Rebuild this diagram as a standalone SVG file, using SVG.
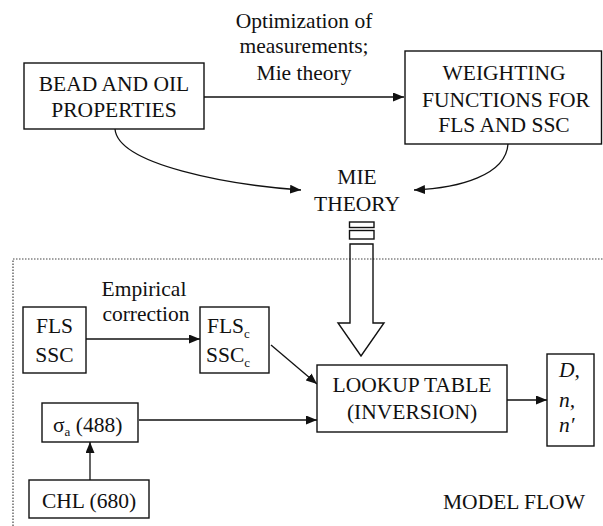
<svg xmlns="http://www.w3.org/2000/svg" width="603" height="526" viewBox="0 0 603 526" font-family="serif">
<style>
text{font-family:serif;font-size:21.5px;fill:#111}
.box{fill:#fff;stroke:#111;stroke-width:1.4}
.ln{fill:none;stroke:#111;stroke-width:1.3}
.dot{fill:none;stroke:#444;stroke-width:1.2;stroke-dasharray:1.5 1.5}
</style>
<defs>
<marker id="ah" markerUnits="userSpaceOnUse" markerWidth="12" markerHeight="10" refX="11" refY="4.5" orient="auto" viewBox="0 0 12 10">
<path d="M0,0 L11,4.5 L0,9 z" fill="#111"/>
</marker>
</defs>
<path class="dot" d="M13,526 V259 H603"/>
<g id="connectors">
<path class="ln" d="M204,97 H404" marker-end="url(#ah)"/>
<path class="ln" d="M115,129 C118,165 230,185 301,190" marker-end="url(#ah)"/>
<path class="ln" d="M508,144 C506,175 460,188 414,190" marker-end="url(#ah)"/>
<path class="ln" d="M86,339 H200" marker-end="url(#ah)"/>
<path class="ln" d="M271,345 L317,384" marker-end="url(#ah)"/>
<path class="ln" d="M139,420 H317" marker-end="url(#ah)"/>
<path class="ln" d="M90,480 V442" marker-end="url(#ah)"/>
<path class="ln" d="M507,400 H547" marker-end="url(#ah)"/>
<g id="big-arrow">
<rect class="ln" style="stroke-width:1.4" x="349.5" y="222" width="24.5" height="5.5"/>
<rect class="ln" style="stroke-width:1.4" x="349.5" y="230.5" width="24.5" height="8.5"/>
<path class="ln" style="stroke-width:1.4" d="M350,244 H373 V323 H384 L361,356 L338,323 H350 Z"/>
</g>
</g>
<text x="304" y="28" text-anchor="middle" style="font-family:'Liberation Serif',serif">Optimization of</text>
<text x="304" y="53" text-anchor="middle" style="font-family:'Liberation Serif',serif">measurements;</text>
<text x="304" y="80" text-anchor="middle" style="font-family:'Liberation Serif',serif">Mie theory</text>
<g id="bead">
<rect class="box" x="24" y="63" width="180" height="66"/>
<text x="114" y="91" text-anchor="middle" style="font-family:'Liberation Serif',serif">BEAD AND OIL</text>
<text x="114" y="117" text-anchor="middle" style="font-family:'Liberation Serif',serif">PROPERTIES</text>
</g>
<g id="weighting">
<rect class="box" x="405" y="51" width="196.5" height="93"/>
<text x="504" y="80" text-anchor="middle" style="font-family:'Liberation Serif',serif">WEIGHTING</text>
<text x="506" y="107" text-anchor="middle" style="font-family:'Liberation Serif',serif">FUNCTIONS FOR</text>
<text x="504" y="132" text-anchor="middle" style="font-family:'Liberation Serif',serif">FLS AND SSC</text>
</g>
<g id="mie">
<text x="357" y="184" text-anchor="middle" style="font-family:'Liberation Serif',serif">MIE</text>
<text x="357" y="211" text-anchor="middle" style="font-family:'Liberation Serif',serif">THEORY</text>
</g>
<text x="144" y="296" text-anchor="middle" style="font-family:'Liberation Serif',serif">Empirical</text>
<text x="146" y="321" text-anchor="middle" style="font-family:'Liberation Serif',serif">correction</text>
<g id="fls">
<rect class="box" x="23" y="307" width="63" height="66"/>
<text x="54.5" y="333" text-anchor="middle" style="font-family:'Liberation Serif',serif">FLS</text>
<text x="54.5" y="362" text-anchor="middle" style="font-family:'Liberation Serif',serif">SSC</text>
</g>
<g id="flsc">
<rect class="box" x="200" y="307" width="69" height="66"/>
<text x="207" y="333" style="font-family:'Liberation Serif',serif">FLS<tspan font-size="13" dy="5">c</tspan></text>
<text x="206" y="362" style="font-family:'Liberation Serif',serif">SSC<tspan font-size="13" dy="5">c</tspan></text>
</g>
<g id="lookup">
<rect class="box" x="317" y="365" width="190" height="67"/>
<text x="412" y="392" text-anchor="middle" style="font-family:'Liberation Serif',serif">LOOKUP TABLE</text>
<text x="412" y="419" text-anchor="middle" style="font-family:'Liberation Serif',serif">(INVERSION)</text>
</g>
<g id="result">
<rect class="box" x="547" y="354" width="47" height="92"/>
<text x="559" y="377" font-style="italic" style="font-family:'Liberation Serif',serif">D,</text>
<text x="559" y="407" font-style="italic" style="font-family:'Liberation Serif',serif">n,</text>
<text x="559" y="432" font-style="italic" style="font-family:'Liberation Serif',serif">n′</text>
</g>
<g id="sigma">
<rect class="box" x="42" y="403" width="96" height="39"/>
<text x="53" y="432" style="font-family:'Liberation Serif',serif">σ<tspan font-size="13" dy="4">a</tspan><tspan dy="-4"> (488)</tspan></text>
</g>
<g id="chl">
<rect class="box" x="29" y="480" width="120" height="38"/>
<text x="89" y="508" text-anchor="middle" style="font-family:'Liberation Serif',serif">CHL (680)</text>
</g>
<text x="443" y="509" style="font-family:'Liberation Serif',serif">MODEL FLOW</text>
</svg>
